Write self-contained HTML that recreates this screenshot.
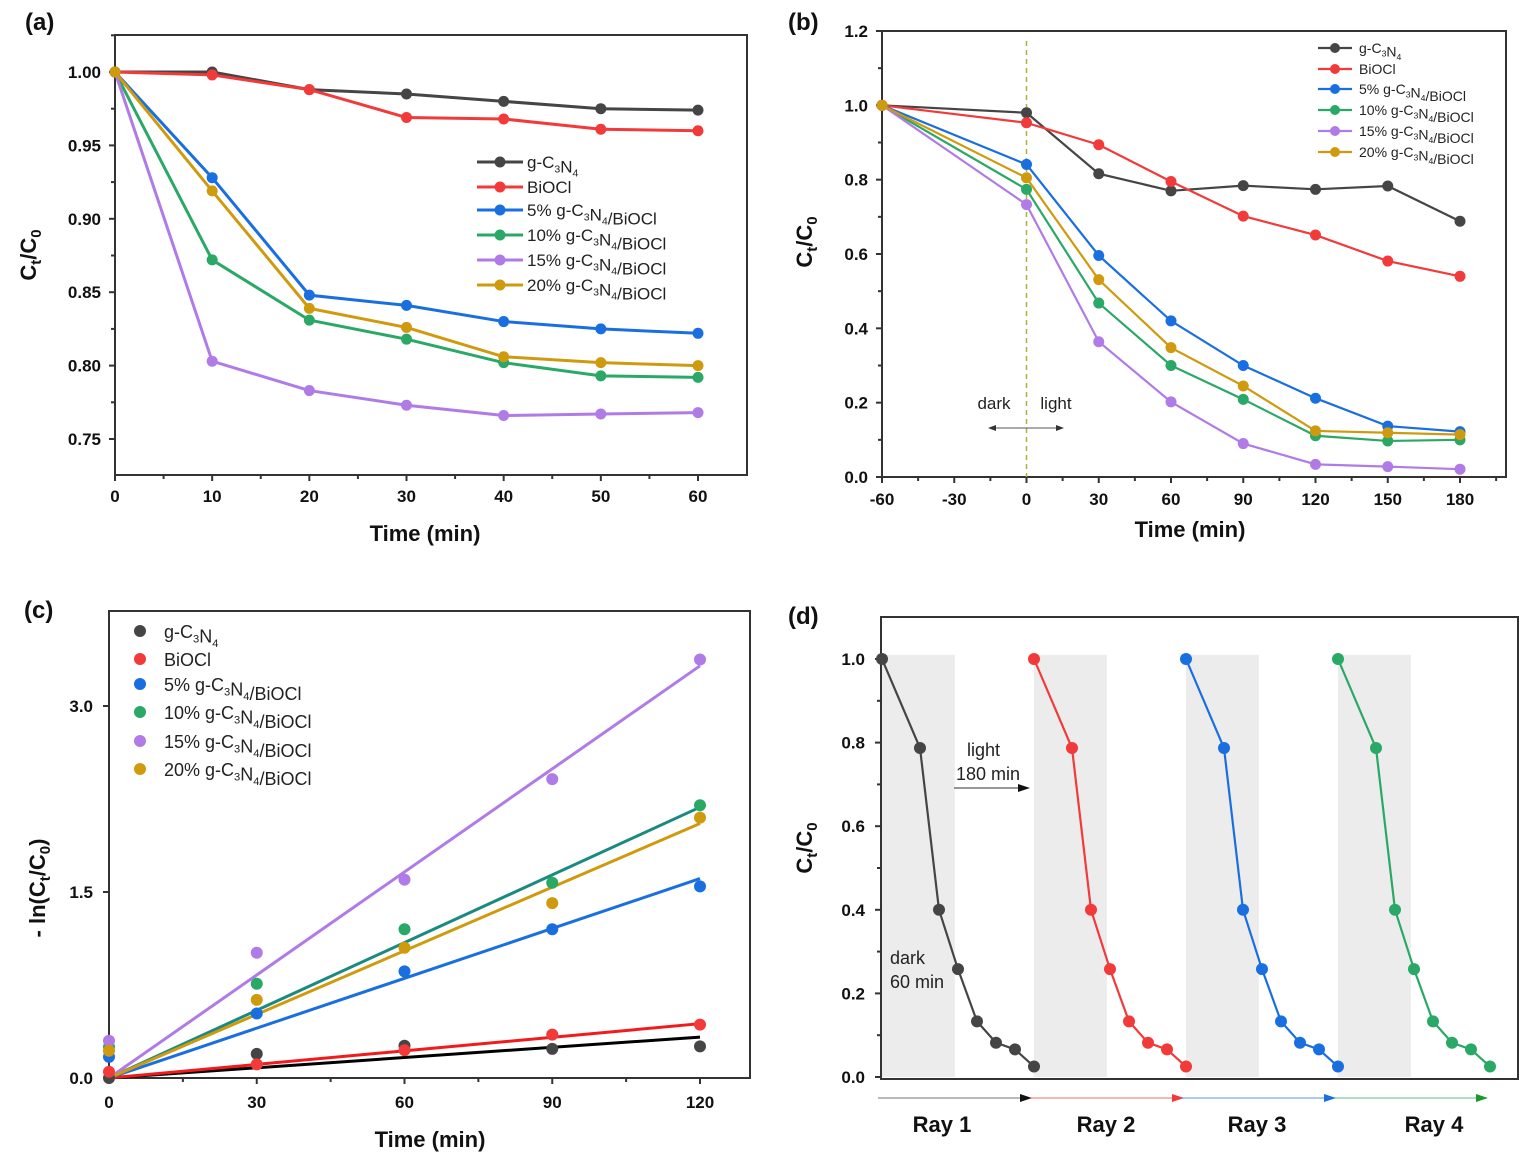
<!DOCTYPE html>
<html><head><meta charset="utf-8"><style>
html,body{margin:0;padding:0;background:#fff}
svg{display:block;font-family:"Liberation Sans",Arial,sans-serif}
.tk{font-weight:bold;font-size:17px;fill:#111}
.ttl{font-weight:bold;font-size:22px;fill:#111}
.pl{font-weight:bold;font-size:24px;fill:#111}
</style></head><body>
<svg id="fig" xmlns="http://www.w3.org/2000/svg" width="1540" height="1162" viewBox="0 0 1540 1162"></svg>
<script>
// ---- shared
const names = ["g-C3N4","BiOCl","5% g-C3N4/BiOCl","10% g-C3N4/BiOCl","15% g-C3N4/BiOCl","20% g-C3N4/BiOCl"];
const colors = ["#454545","#f23a3a","#1a6fe0","#2aa866","#b07be6","#cf9a0e"];
// ---- panel a
const aTimes = [0,10,20,30,40,50,60];
const aG   = [1.0,1.0,0.988,0.985,0.980,0.975,0.974];
const aBi  = [1.0,0.998,0.988,0.969,0.968,0.961,0.960];
const a5   = [1.0,0.928,0.848,0.841,0.830,0.825,0.822];
const a10  = [1.0,0.872,0.831,0.818,0.802,0.793,0.792];
const a15  = [1.0,0.803,0.783,0.773,0.766,0.767,0.768];
const a20  = [1.0,0.919,0.839,0.826,0.806,0.802,0.800];
const aXTicks = [0,10,20,30,40,50,60];
const aYTicks = ["0.75","0.80","0.85","0.90","0.95","1.00"];
// ---- panel b
const bTimes = [-60,0,30,60,90,120,150,180];
const bG   = [1.0,0.98,0.816,0.77,0.784,0.774,0.783,0.688];
const bBi  = [1.0,0.953,0.894,0.795,0.702,0.651,0.581,0.54];
const b5   = [1.0,0.841,0.596,0.42,0.30,0.212,0.137,0.122];
const b10  = [1.0,0.774,0.468,0.30,0.209,0.111,0.097,0.10];
const b15  = [1.0,0.733,0.364,0.202,0.09,0.034,0.028,0.021];
const b20  = [1.0,0.805,0.531,0.348,0.245,0.124,0.119,0.114];
const bXTicks = [-60,-30,0,30,60,90,120,150,180];
const bYTicks = ["0.0","0.2","0.4","0.6","0.8","1.0","1.2"];
// ---- panel c
const cTimes = [0,30,60,90,120];
const cG   = [0.0,0.195,0.26,0.235,0.255];
const cBi  = [0.05,0.11,0.225,0.35,0.43];
const c5   = [0.17,0.52,0.86,1.2,1.545];
const c10  = [0.25,0.76,1.2,1.575,2.2];
const c15  = [0.30,1.01,1.6,2.41,3.375];
const c20  = [0.22,0.63,1.05,1.41,2.1];
const cSlopes = [0.00275,0.00365,0.0134,0.0182,0.0277,0.0171];
const cFitColors = ["#000000","#f21a1a","#1a6fe0","#1a8a80","#b07be6","#cf9a0e"];
const cXTicks = [0,30,60,90,120];
const cYTicks = ["0.0","1.5","3.0"];
// ---- panel d
const dCycleStarts = [0,240,480,720];
const dOffsets = [0,60,90,120,150,180,210,240];
const dValues = [1.0,0.787,0.40,0.258,0.133,0.082,0.066,0.025];
const dShade = 115;
const dColors = ["#454545","#f23a3a","#1a6fe0","#2aa866"];
const dRays = ["Ray 1","Ray 2","Ray 3","Ray 4"];
const dYTicks = ["0.0","0.2","0.4","0.6","0.8","1.0"];

const NS="http://www.w3.org/2000/svg";
const svg=document.getElementById('fig');
function el(tag,attrs,parent,text){const e=document.createElementNS(NS,tag);for(const k in attrs)e.setAttribute(k,attrs[k]);if(text!==undefined)e.textContent=text;(parent||svg).appendChild(e);return e;}
function lin(d0,d1,p0,p1){return v=>p0+(v-d0)*(p1-p0)/(d1-d0);}
function subLabel(g,x,y,label,size,anchor){
  const t=el('text',{x:x,y:y,'font-size':size,fill:'#222','text-anchor':anchor||'start'},g);
  const parts=label.split(/(C3|N4)/);
  parts.forEach(p=>{ if(p==='C3'||p==='N4'){el('tspan',{},t,p[0]);const s=el('tspan',{'font-size':size*0.62,dy:size*0.25},t,p[1]);el('tspan',{dy:-size*0.25},t,'');} else if(p) el('tspan',{},t,p);});
  return t;
}
function frame(g,l,t,r,b){el('rect',{x:l,y:t,width:r-l,height:b-t,fill:'none',stroke:'#333','stroke-width':2},g);}
function yTitle(g,x,y,main){
  const t=el('text',{transform:`translate(${x},${y}) rotate(-90)`,'text-anchor':'middle',class:'ttl'},g);
  if(main==='ln'){el('tspan',{},t,'- ln(C');el('tspan',{'font-size':15,dy:5},t,'t');el('tspan',{dy:-5},t,'/C');el('tspan',{'font-size':15,dy:5},t,'0');el('tspan',{dy:-5},t,')');}
  else{el('tspan',{},t,'C');el('tspan',{'font-size':15,dy:5},t,'t');el('tspan',{dy:-5},t,'/C');el('tspan',{'font-size':15,dy:5},t,'0');}
  return t;
}

// ===================== Panel A
(function(){
 const g=el('g',{});
 const L=115,R=747,T=35,B=475;
 const x=lin(0,60,115,698), y=lin(0.75,1.0,439,72);
 frame(g,L,T,R,B);
 aXTicks.forEach(v=>{el('line',{x1:x(v),x2:x(v),y1:B,y2:B+6,stroke:'#333','stroke-width':2},g);
   const t=el('text',{x:x(v),y:B+27,'text-anchor':'middle',class:'tk'},g,String(v));
   if(v<60) el('line',{x1:x(v+5),x2:x(v+5),y1:B,y2:B+4,stroke:'#333','stroke-width':2},g);});
 aYTicks.forEach(s=>{const v=+s;el('line',{x1:L-6,x2:L,y1:y(v),y2:y(v),stroke:'#333','stroke-width':2},g);
   const t=el('text',{x:L-14,y:y(v)+6,'text-anchor':'end',class:'tk'},g,s);
   el('line',{x1:L-4,x2:L,y1:y(v+0.025),y2:y(v+0.025),stroke:'#333','stroke-width':2},g);});
 const series=[aG,aBi,a5,a10,a15,a20];
 series.forEach((s,i)=>{
   const pl=el('polyline',{points:s.map((v,j)=>x(aTimes[j])+','+y(v)).join(' '),fill:'none',stroke:colors[i],'stroke-width':3},g);
   
   s.forEach((v,j)=>{const c=el('circle',{cx:x(aTimes[j]),cy:y(v),r:5.5,fill:colors[i]},g);});
 });
 const ly=[162,187,210,235,260,285];
 names.forEach((n,i)=>{const lg=el('g',{},g);
   el('line',{x1:477,x2:523,y1:ly[i],y2:ly[i],stroke:colors[i],'stroke-width':3},lg);el('circle',{cx:500,cy:ly[i],r:5.5,fill:colors[i]},lg);
   subLabel(lg,527,ly[i]+6,n,17);});
 const xt=el('text',{x:425,y:541,'text-anchor':'middle',class:'ttl'},g,'Time (min)');
 const yt=yTitle(g,36,255,'c');
 const pl=el('text',{x:25,y:30,class:'pl'},g,'(a)');
})();

// ===================== Panel B
(function(){
 const g=el('g',{});
 const L=882,R=1506,T=31,B=477;
 const x=lin(-60,180,882,1460), y=lin(0,1.2,477,31);
 frame(g,L,T,R,B);
 bXTicks.forEach(v=>{el('line',{x1:x(v),x2:x(v),y1:B,y2:B+6,stroke:'#333','stroke-width':2},g);
   const t=el('text',{x:x(v),y:B+28,'text-anchor':'middle',class:'tk'},g,String(v));
   if(x(v+15)<R) el('line',{x1:x(v+15),x2:x(v+15),y1:B,y2:B+4,stroke:'#333','stroke-width':2},g);});
 bYTicks.forEach(s=>{const v=+s;el('line',{x1:L-6,x2:L,y1:y(v),y2:y(v),stroke:'#333','stroke-width':2},g);
   const t=el('text',{x:L-14,y:y(v)+6,'text-anchor':'end',class:'tk'},g,s);
   if(v<1.2) el('line',{x1:L-4,x2:L,y1:y(v+0.1),y2:y(v+0.1),stroke:'#333','stroke-width':2},g);});
 const dl=el('line',{x1:x(0),x2:x(0),y1:41,y2:B,stroke:'#b0b040','stroke-width':1.5,'stroke-dasharray':'5,4'},g);
 el('text',{x:994,y:409,'text-anchor':'middle','font-size':17,fill:'#222'},g,'dark');
 el('text',{x:1056,y:409,'text-anchor':'middle','font-size':17,fill:'#222'},g,'light');
 el('line',{x1:x(0),x2:990,y1:428,y2:428,stroke:'#555','stroke-width':1},g);el('polygon',{points:'988,428 996,425 996,431',fill:'#333'},g);
 el('line',{x1:x(0),x2:1062,y1:428,y2:428,stroke:'#555','stroke-width':1},g);el('polygon',{points:'1064,428 1056,425 1056,431',fill:'#333'},g);
 const series=[bG,bBi,b5,b10,b15,b20];
 series.forEach((s,i)=>{
   const pl=el('polyline',{points:s.map((v,j)=>x(bTimes[j])+','+y(v)).join(' '),fill:'none',stroke:colors[i],'stroke-width':2.2},g);
   
   s.forEach((v,j)=>{const c=el('circle',{cx:x(bTimes[j]),cy:y(v),r:5.5,fill:colors[i]},g);});
 });
 const ly=[48,69,89,110,131,152];
 names.forEach((n,i)=>{const lg=el('g',{},g);
   el('line',{x1:1318,x2:1352,y1:ly[i],y2:ly[i],stroke:colors[i],'stroke-width':2.2},lg);el('circle',{cx:1335,cy:ly[i],r:5,fill:colors[i]},lg);
   subLabel(lg,1359,ly[i]+5,n,14);});
 const xt=el('text',{x:1190,y:537,'text-anchor':'middle',class:'ttl'},g,'Time (min)');
 const yt=yTitle(g,812,242,'c');
 const pl=el('text',{x:788,y:30,class:'pl'},g,'(b)');
})();

// ===================== Panel C
(function(){
 const g=el('g',{});
 const L=109,R=750,T=611,B=1078;
 const x=lin(0,120,109,700), y=lin(0,3.0,1078,706);
 frame(g,L,T,R,B);
 cXTicks.forEach(v=>{el('line',{x1:x(v),x2:x(v),y1:B,y2:B+6,stroke:'#333','stroke-width':2},g);
   const t=el('text',{x:x(v),y:B+30,'text-anchor':'middle',class:'tk'},g,String(v));
   if(x(v+15)<R) el('line',{x1:x(v+15),x2:x(v+15),y1:B,y2:B+4,stroke:'#333','stroke-width':2},g);});
 cYTicks.forEach(s=>{const v=+s;el('line',{x1:L-6,x2:L,y1:y(v),y2:y(v),stroke:'#333','stroke-width':2},g);
   const t=el('text',{x:L-16,y:y(v)+6,'text-anchor':'end',class:'tk'},g,s);});
 const series=[cG,cBi,c5,c10,c15,c20];
 cSlopes.forEach((k,i)=>{const ln=el('line',{x1:x(0),y1:y(0),x2:x(120),y2:y(k*120),stroke:cFitColors[i],'stroke-width':3},g);});
 series.forEach((s,i)=>{
   s.forEach((v,j)=>{const c=el('circle',{cx:x(cTimes[j]),cy:y(v),r:6,fill:colors[i]},g);});
 });
 const ly=[631,659,684,712,741,769];
 names.forEach((n,i)=>{const lg=el('g',{},g);
   el('circle',{cx:140,cy:ly[i],r:6,fill:colors[i]},lg);
   subLabel(lg,164,ly[i]+7,n,18);});
 const xt=el('text',{x:430,y:1147,'text-anchor':'middle',class:'ttl'},g,'Time (min)');
 const yt=yTitle(g,45,888,'ln');
 const pl=el('text',{x:24,y:618,class:'pl'},g,'(c)');
})();

// ===================== Panel D
(function(){
 const g=el('g',{});
 const L=881,R=1518,T=617,B=1079;
 const x=lin(0,240,882,1034), y=lin(0,1.0,1077,659);
 dCycleStarts.forEach(c=>{const r=el('rect',{x:x(c),y:y(1.01),width:x(c+dShade)-x(c),height:y(0)-y(1.01),fill:'#ececec'},g);});
 frame(g,L,T,R,B);
 dYTicks.forEach(s=>{const v=+s;el('line',{x1:L-6,x2:L,y1:y(v),y2:y(v),stroke:'#333','stroke-width':2},g);
   const t=el('text',{x:L-16,y:y(v)+6,'text-anchor':'end',class:'tk'},g,s);
   if(v<1) el('line',{x1:L-4,x2:L,y1:y(v+0.1),y2:y(v+0.1),stroke:'#333','stroke-width':2},g);});
 dCycleStarts.forEach((c,i)=>{
   const pl=el('polyline',{points:dValues.map((v,j)=>x(c+dOffsets[j])+','+y(v)).join(' '),fill:'none',stroke:dColors[i],'stroke-width':2.2},g);
   
   dValues.forEach((v,j)=>{const cc=el('circle',{cx:x(c+dOffsets[j]),cy:y(v),r:6,fill:dColors[i]},g);});
   const a0=x(c)-4, a1=x(c+240)-2;
   el('line',{x1:a0,x2:a1-6,y1:1098,y2:1098,stroke:dColors[i],'stroke-width':1.2,'stroke-opacity':0.6},g);
   el('polygon',{points:`${a1},1098 ${a1-12},1094 ${a1-12},1102`,fill:i===0?'#111':(i===3?'#1a9a2a':dColors[i])},g);
   const rt=el('text',{x:[942,1106,1257,1434][i],y:1132,'text-anchor':'middle',class:'ttl'},g,dRays[i]);
 });
 el('text',{x:967,y:756,'font-size':18,fill:'#222'},g,'light');
 el('text',{x:956,y:780,'font-size':18,fill:'#222'},g,'180 min');
 el('line',{x1:954,x2:1022,y1:788,y2:788,stroke:'#777','stroke-width':1.5},g);el('polygon',{points:'1030,788 1018,784 1018,792',fill:'#111'},g);
 el('text',{x:890,y:964,'font-size':18,fill:'#222'},g,'dark');
 el('text',{x:890,y:988,'font-size':18,fill:'#222'},g,'60 min');
 const yt=yTitle(g,812,848,'c');
 const pl=el('text',{x:788,y:624,class:'pl'},g,'(d)');
})();
</script>
</body></html>
